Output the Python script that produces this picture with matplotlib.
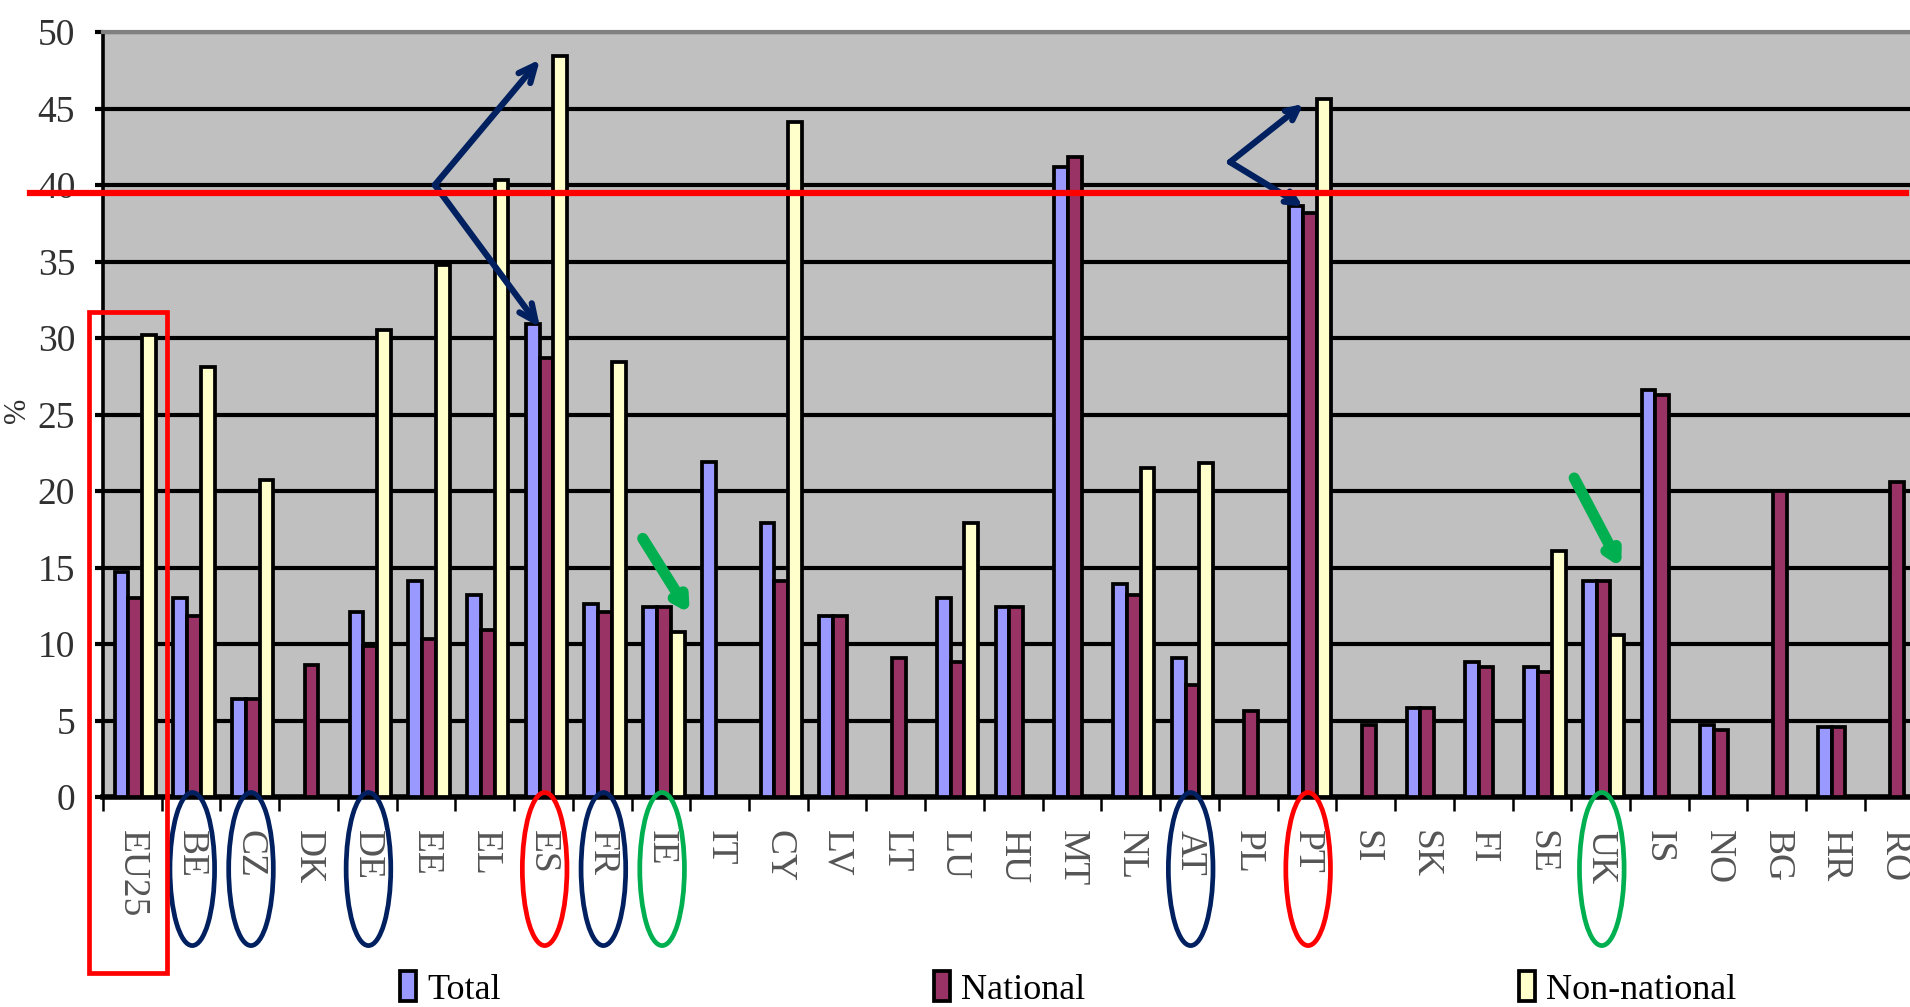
import numpy as np
import matplotlib
matplotlib.use("Agg")
import matplotlib.pyplot as plt
from matplotlib.patches import Ellipse, Rectangle
from matplotlib.transforms import blended_transform_factory
from matplotlib.lines import Line2D

countries = ["EU25", "BE", "CZ", "DK", "DE", "EE", "EL", "ES", "FR", "IE", "IT",
             "CY", "LV", "LT", "LU", "HU", "MT", "NL", "AT", "PL", "PT", "SI",
             "SK", "FI", "SE", "UK", "IS", "NO", "BG", "HR", "RO"]
nan = np.nan
total = [14.7, 13.0, 6.4, nan, 12.1, 14.1, 13.2, 30.9, 12.6, 12.4, 21.9,
         17.9, 11.8, nan, 13.0, 12.4, 41.2, 13.9, 9.1, nan, 38.6, nan,
         5.8, 8.8, 8.5, 14.1, 26.6, 4.7, nan, 4.6, nan]
national = [13.0, 11.8, 6.4, 8.6, 9.9, 10.3, 10.9, 28.7, 12.1, 12.4, nan,
            14.1, 11.8, 9.1, 8.8, 12.4, 41.8, 13.2, 7.3, 5.6, 38.2, 4.7,
            5.8, 8.5, 8.2, 14.1, 26.3, 4.4, 20.0, 4.6, 20.6]
non_national = [30.2, 28.1, 20.7, nan, 30.5, 34.8, 40.3, 48.4, 28.4, 10.8, nan,
                44.1, nan, nan, 17.9, nan, nan, 21.5, 21.8, nan, 45.6, nan,
                nan, nan, 16.1, 10.6, nan, nan, nan, nan, nan]
series = ["Total", "National", "Non-national"]
colors = ["#9999FF", "#993366", "#FFFFCC"]
threshold = 39.5

blue_circled = ["BE", "CZ", "DE", "FR", "AT"]
red_circled = ["ES", "PT"]
green_circled = ["IE", "UK"]

plt.rcParams['font.family'] = ['Liberation Serif', 'DejaVu Serif']

fig = plt.figure(figsize=(19.1, 10.07), dpi=100)
ax = fig.add_axes([103 / 1910, 210 / 1007, 31 * 58.73 / 1910, 765 / 1007])
ax.set_facecolor("#C0C0C0")

x = np.arange(len(countries))
w = 0.235
shift = 0.05
bars = []
for k, (vals, c) in enumerate(zip([total, national, non_national], colors)):
    b = ax.bar(x + shift + (k - 1) * w, vals, width=w, color=c,
               edgecolor="black", linewidth=2.7, zorder=3)
    bars.append(b)

ax.set_xlim(-0.5, len(countries) - 0.5)
ax.set_ylim(0, 50)
ax.set_yticks(np.arange(0, 51, 5))
ax.yaxis.grid(True, color="black", linewidth=3.0)
ax.set_axisbelow(True)

ax.set_xticks(np.arange(len(countries) + 1) - 0.5)
ax.set_xticklabels([])
ax.set_xticks(x, minor=True)
ax.set_xticklabels(countries, minor=True, rotation=270, fontsize=27,
                   color="#555555", va="top", ha="center")
ax.tick_params(axis="x", which="major", length=10, width=1.8, color="black")
ax.tick_params(axis="x", which="minor", length=0, pad=24)
ax.tick_params(axis="y", length=6, width=3.0, pad=14, labelsize=27,
               labelcolor="#303030")

ax.spines["right"].set_visible(False)
ax.spines["top"].set_color("#808080")
ax.spines["top"].set_linewidth(3.0)
ax.spines["left"].set_linewidth(2.6)
ax.spines["bottom"].set_linewidth(4.0)

fig.text(0.009, 0.592, "%", fontsize=22, rotation=90, color="#303030",
         ha="center", va="center")

# red threshold line across the figure
tr_line = blended_transform_factory(fig.transFigure, ax.transData)
fig.add_artist(Line2D([30 / 1910, 1906 / 1910], [threshold, threshold],
                      transform=tr_line, color="#FF0000", linewidth=4.5,
                      zorder=10))

# ellipses around labels
tr_lab = blended_transform_factory(ax.transData, fig.transFigure)
for names, col in [(blue_circled, "#002060"), (red_circled, "#FF0000"),
                   (green_circled, "#00B050")]:
    for n in names:
        i = countries.index(n)
        e = Ellipse((i + 0.02, 0.137), 0.76, 0.152, transform=tr_lab,
                    fill=False, edgecolor=col, linewidth=3.4, clip_on=False)
        fig.add_artist(e)

# red box round EU25
fig.add_artist(Rectangle((-0.74, 0.034), 1.33, 0.656, transform=tr_lab,
                         fill=False, edgecolor="#FF0000", linewidth=3.4,
                         clip_on=False))

# navy arrows
es = countries.index("ES")
pt = countries.index("PT")
navy = dict(arrowstyle="->,head_length=1.2,head_width=0.55", color="#002060",
            lw=4.5, capstyle="round", joinstyle="round", shrinkA=0, shrinkB=0)
for tip in [(es - 0.06, non_national[es] - 0.2), (es - 0.06, total[es] - 0.2)]:
    ax.annotate("", xy=tip, xytext=(es - 1.85, 40.0), arrowprops=navy,
                zorder=11, annotation_clip=False)
navy2 = dict(navy, arrowstyle="->,head_length=0.85,head_width=0.42")
for tip in [(pt - 0.06, 45.3), (pt - 0.07, total[pt])]:
    ax.annotate("", xy=tip, xytext=(pt - 1.31, 41.5), arrowprops=navy2,
                zorder=11, annotation_clip=False)

# green arrows
ie = countries.index("IE")
uk = countries.index("UK")
green = dict(arrowstyle="->,head_length=0.75,head_width=0.42", color="#00B050",
             lw=8, capstyle="round", joinstyle="round", shrinkA=0, shrinkB=0)
ax.annotate("", xy=(ie + 0.49, 12.0), xytext=(ie - 0.31, 16.9),
            arrowprops=green, zorder=11)
ax.annotate("", xy=(uk + 0.35, 15.0), xytext=(uk - 0.45, 20.85),
            arrowprops=green, zorder=11)

fig.legend(bars, series, loc="center left", bbox_to_anchor=(400 / 1910, 0.018),
           ncol=3, frameon=False, fontsize=26, handlelength=0.45,
           handleheight=0.9, handletextpad=0.3, columnspacing=12.0,
           borderpad=0, borderaxespad=0)

fig.savefig("out.png", dpi=100)
